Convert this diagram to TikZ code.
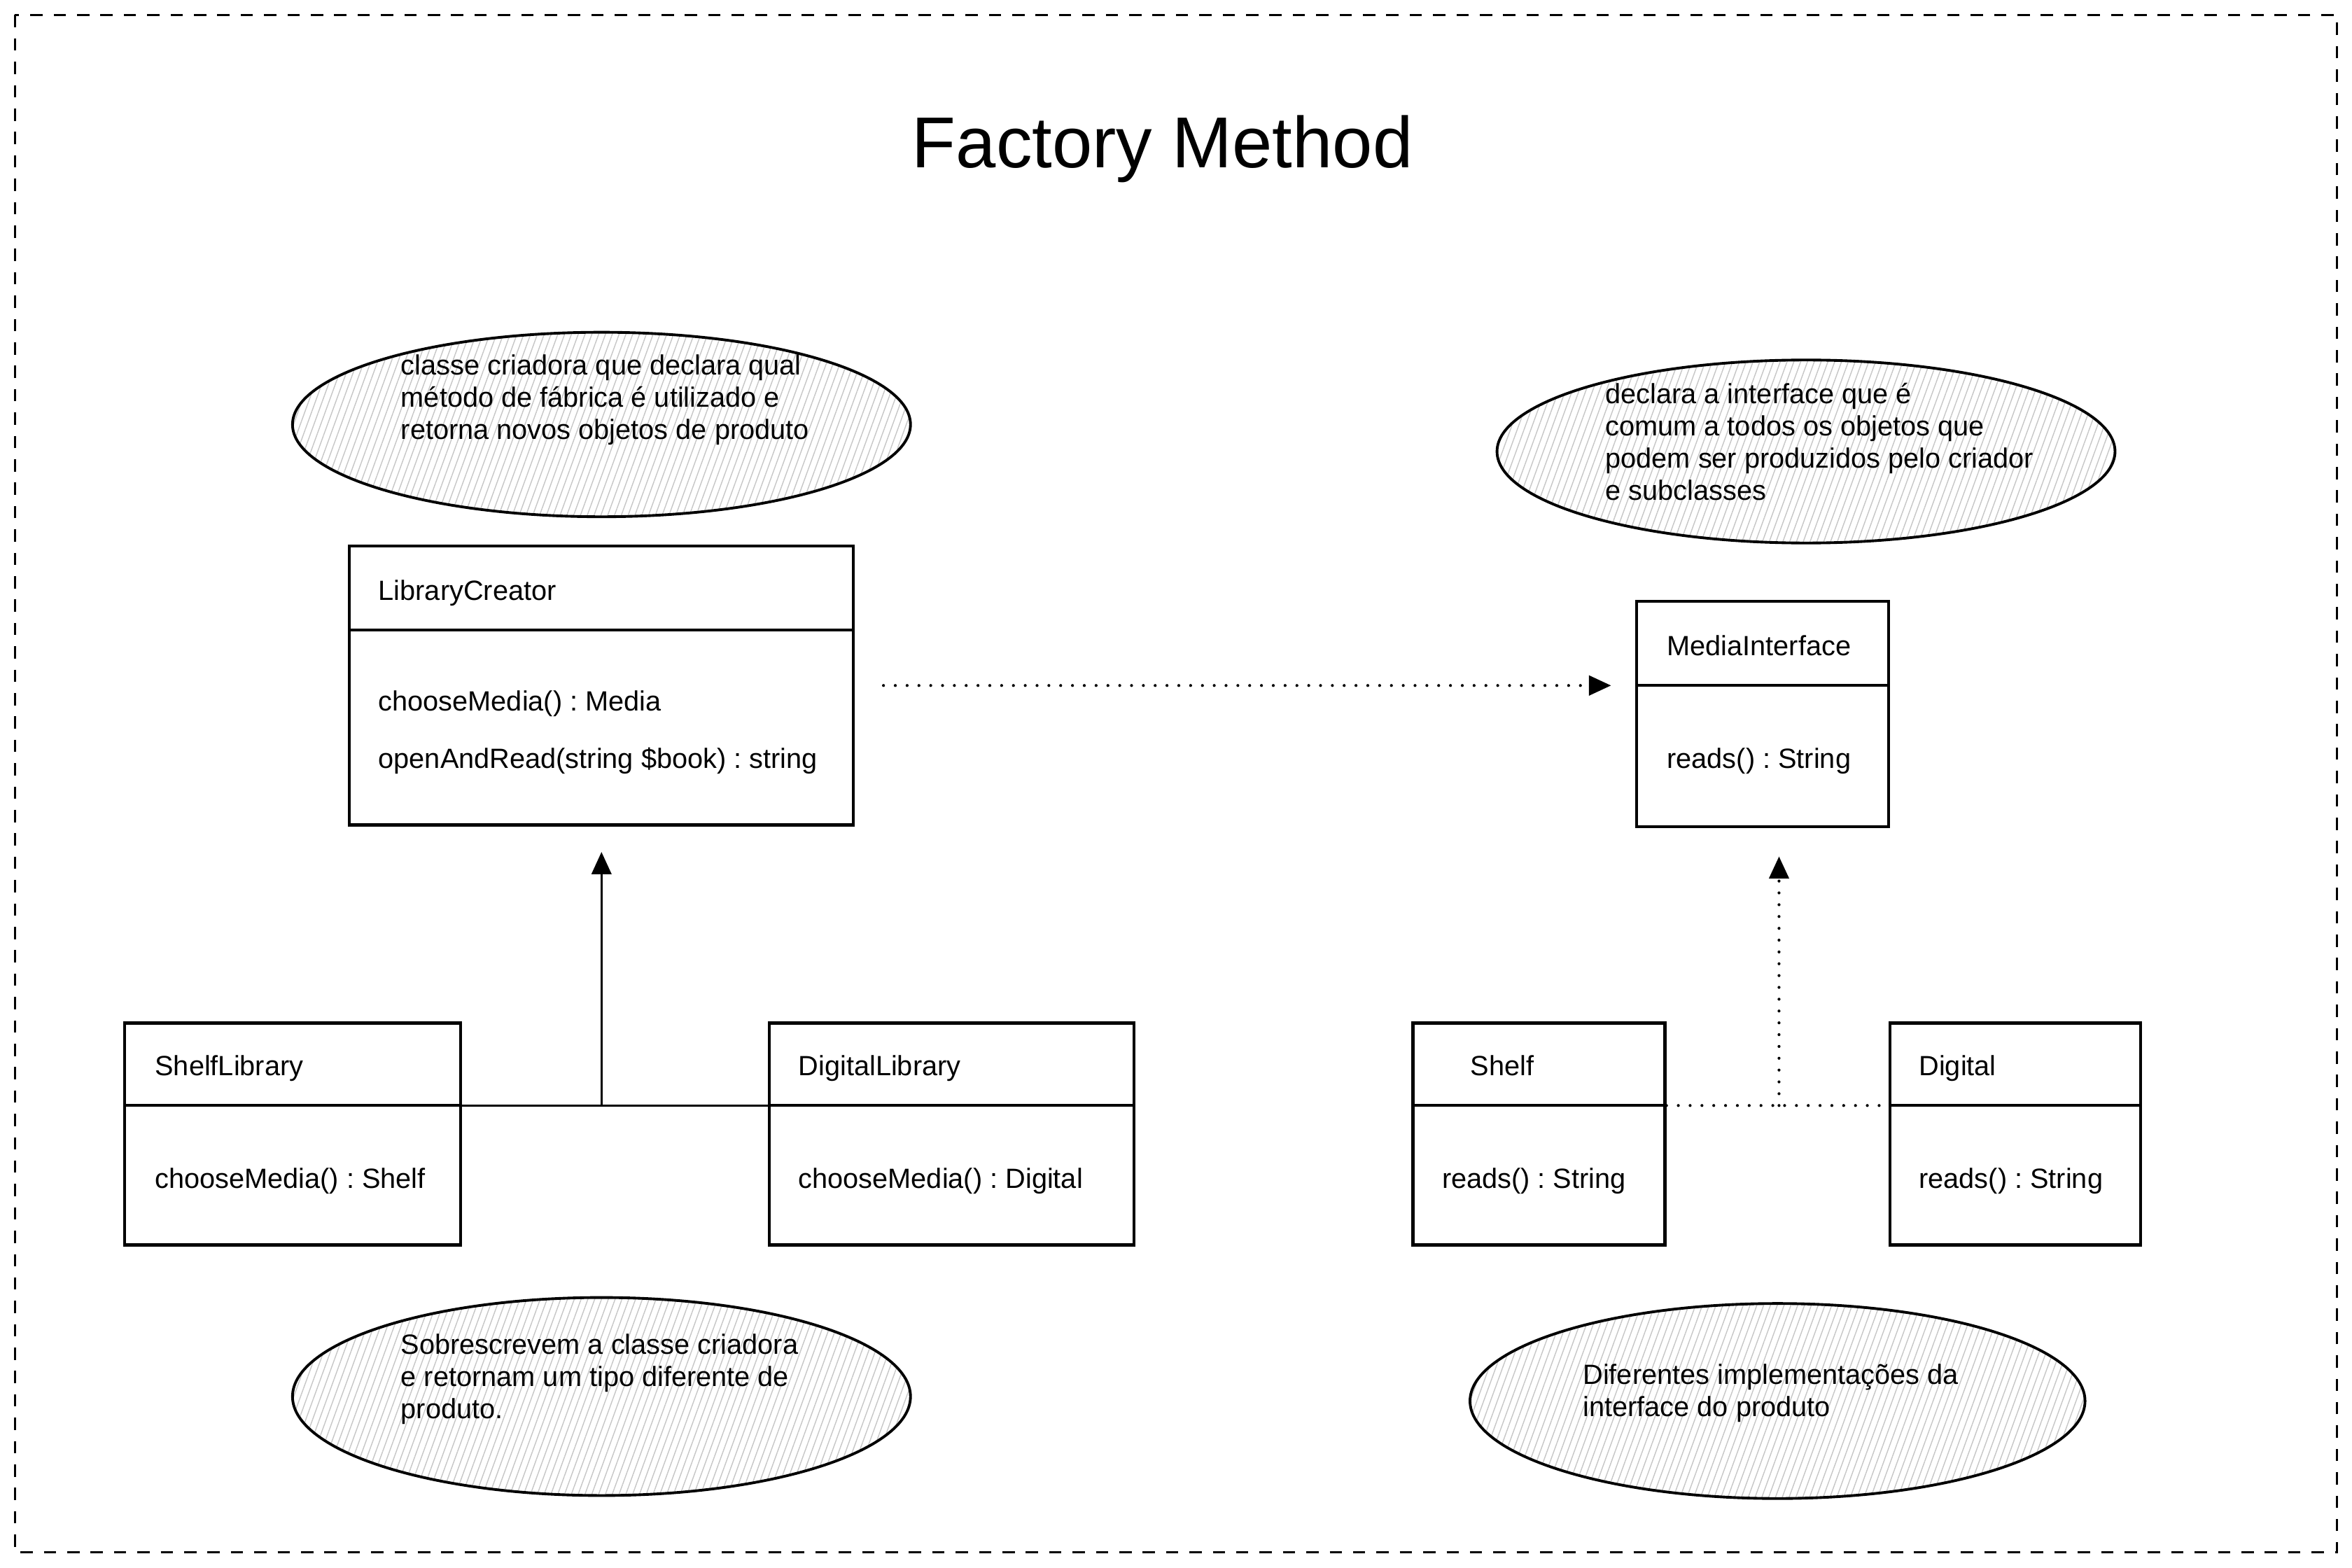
\documentclass[tikz,border=0pt]{standalone}
\usepackage{fontspec}
\setmainfont{Liberation Sans}
\usetikzlibrary{arrows.meta,patterns.meta,shapes.geometric,positioning}
\frenchspacing

\newcommand{\upx}{0.021429cm}

\begin{document}
\begin{tikzpicture}[
            x=0.021429cm, y=-0.021429cm,
            every node/.style={font=\fontsize{11.3}{13.1}\selectfont, inner sep=0pt},
            classbox/.style={draw, rectangle, line width=1.2pt},
            member/.style={anchor=base west},
            note/.style={ellipse, draw, line width=1.1pt,
              pattern={Lines[angle=70, distance=2.6pt, line width=0.4pt]}, pattern color=gray!45},
            notetext/.style={anchor=north west, align=left},
            link/.style={line width=0.9pt},
            realize/.style={line width=1.2pt, line cap=round, dash pattern=on 0pt off 4.8pt},
            head/.style={-{Triangle[length=9pt, width=8pt]}}
          ]
          \useasboundingbox (0,0) rectangle (1568,1045);

          % Frame and title
          \draw[line width=0.8pt, dash pattern=on 5pt off 4.5pt] (10,10) rectangle (1558,1035);
          \node[font=\fontsize{29.3}{35}\selectfont, anchor=base] (title) at (775,112) {Factory Method};

          % Notes
          \node[note, minimum width=412*\upx, minimum height=123*\upx] (noteCreator) at (401,283) {};
          \node[notetext] (noteCreatorText) at (267,236) {classe criadora que declara qual\\método de fábrica é utilizado e\\retorna novos objetos de produto};
          \node[note, minimum width=412*\upx, minimum height=122*\upx] (noteInterface) at (1204,301) {};
          \node[notetext] (noteInterfaceText) at (1070,255) {declara a interface que é\\comum a todos os objetos que\\podem ser produzidos pelo criador\\e subclasses};
          \node[note, minimum width=412*\upx, minimum height=132*\upx] (noteSubclass) at (401,931) {};
          \node[notetext] (noteSubclassText) at (267,889) {Sobrescrevem a classe criadora\\e retornam um tipo diferente de\\produto.};
          \node[note, minimum width=410*\upx, minimum height=130*\upx] (noteProduct) at (1185,934) {};
          \node[notetext] (noteProductText) at (1055,909) {Diferentes implementações da\\interface do produto};

          % Classes
          \node[classbox, minimum width=336*\upx, minimum height=186*\upx] (creator) at (401,457) {};
          \draw[line width=1.2pt] (creator.west |- 0,420) -- (creator.east |- 0,420);
          \node[member] (creatorName) at (252,400) {LibraryCreator};
          \node[member] (creatorM1) at (252,474) {chooseMedia() : Media};
          \node[member] (creatorM2) at (252,512) {openAndRead(string \$book) : string};

          \node[classbox, minimum width=168*\upx, minimum height=150*\upx] (interface) at (1175,476) {};
          \draw[line width=1.2pt] (interface.west |- 0,457) -- (interface.east |- 0,457);
          \node[member] (interfaceName) at (1111,437) {MediaInterface};
          \node[member] (interfaceM1) at (1111,512) {reads() : String};

          \node[classbox, minimum width=224*\upx, minimum height=148*\upx] (shelfLib) at (195,756) {};
          \draw[line width=1.2pt] (shelfLib.west |- 0,737) -- (shelfLib.east |- 0,737);
          \node[member] (shelfLibName) at (103,717) {ShelfLibrary};
          \node[member] (shelfLibM1) at (103,792) {chooseMedia() : Shelf};

          \node[classbox, minimum width=243*\upx, minimum height=148*\upx] (digitalLib) at (634.5,756) {};
          \draw[line width=1.2pt] (digitalLib.west |- 0,737) -- (digitalLib.east |- 0,737);
          \node[member] (digitalLibName) at (532,717) {DigitalLibrary};
          \node[member] (digitalLibM1) at (532,792) {chooseMedia() : Digital};

          \node[classbox, minimum width=168*\upx, minimum height=148*\upx] (shelf) at (1026,756) {};
          \draw[line width=1.2pt] (shelf.west |- 0,737) -- (shelf.east |- 0,737);
          \node[member] (shelfName) at (980,717) {Shelf};
          \node[member] (shelfM1) at (961,792) {reads() : String};

          \node[classbox, minimum width=167*\upx, minimum height=148*\upx] (digital) at (1343.5,756) {};
          \draw[line width=1.2pt] (digital.west |- 0,737) -- (digital.east |- 0,737);
          \node[member] (digitalName) at (1279,717) {Digital};
          \node[member] (digitalM1) at (1279,792) {reads() : String};

          % Connectors
          \draw[realize, head, shorten <=19*\upx, shorten >=16*\upx] (creator.east) -- (interface.west |- creator.east);

          \coordinate (joinL) at (401,737);
          \draw[link] (shelfLib.east |- joinL) -- (digitalLib.west |- joinL);
          \draw[link, head, shorten >=17*\upx] (joinL) -- (creator.south);

          \coordinate (joinR) at (1186,737);
          \draw[realize] (shelf.east |- joinR) -- (digital.west |- joinR);
          \draw[realize, head, shorten >=19*\upx] (joinR) -- (joinR |- interface.south);

        \end{tikzpicture}
\end{document}
